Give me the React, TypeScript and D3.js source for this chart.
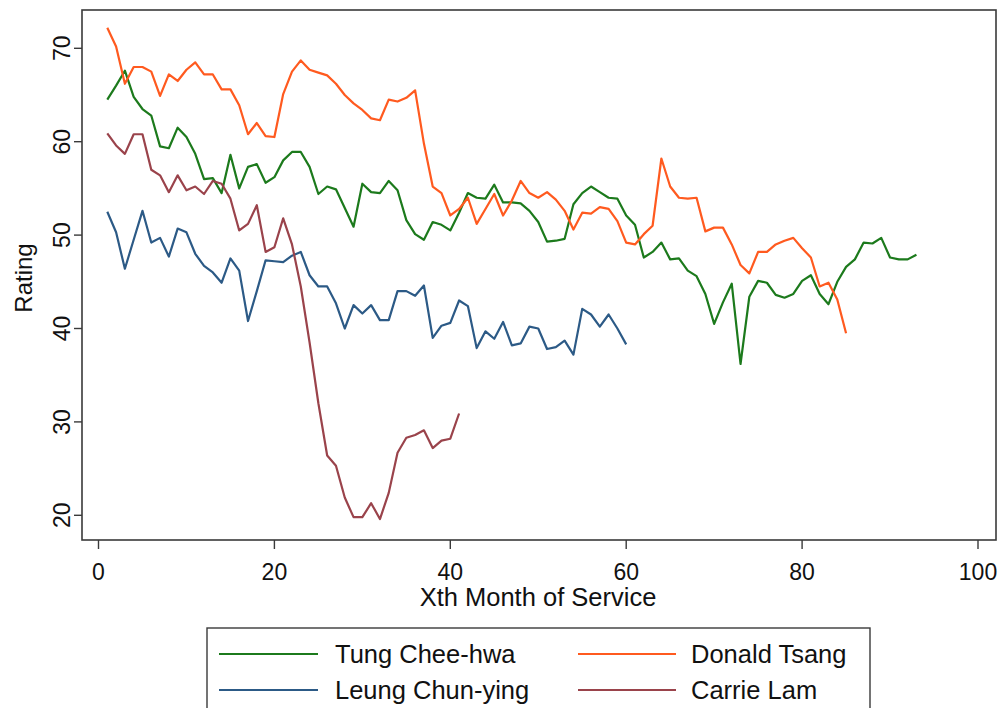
import React from 'react';
import * as d3 from 'd3';

const tungValues = [
  64.5, 66.0, 67.6, 64.8, 63.5, 62.8, 59.5, 59.3, 61.5, 60.5,
  58.7, 56.0, 56.1, 54.5, 58.6, 55.0, 57.3, 57.6, 55.6, 56.2,
  58.0, 58.9, 58.9, 57.3, 54.4, 55.2, 54.9, 52.9, 50.9, 55.5,
  54.6, 54.5, 55.8, 54.8, 51.6, 50.1, 49.5, 51.4, 51.1, 50.5,
  52.4, 54.5, 54.0, 53.9, 55.4, 53.5, 53.5, 53.4, 52.6, 51.4,
  49.3, 49.4, 49.6, 53.3, 54.5, 55.2, 54.6, 54.0, 53.9, 52.1,
  51.1, 47.6, 48.2, 49.2, 47.4, 47.5, 46.2, 45.6, 43.7, 40.5,
  42.8, 44.8, 36.2, 43.4, 45.1, 44.9, 43.6, 43.3, 43.7, 45.1,
  45.7, 43.7, 42.6, 45.0, 46.6, 47.4, 49.2, 49.1, 49.7, 47.6,
  47.4, 47.4, 47.9,
];

const tsangValues = [
  72.2, 70.2, 66.2, 68.0, 68.0, 67.5, 64.9, 67.2, 66.5, 67.7,
  68.5, 67.2, 67.2, 65.6, 65.6, 63.9, 60.8, 62.0, 60.6, 60.5,
  65.1, 67.5, 68.7, 67.7, 67.4, 67.1, 66.2, 65.0, 64.1, 63.4,
  62.5, 62.3, 64.5, 64.3, 64.7, 65.5, 59.8, 55.2, 54.5, 52.1,
  52.8, 54.0, 51.2, 52.8, 54.4, 52.1, 53.7, 55.8, 54.5, 54.0,
  54.6, 53.8, 52.6, 50.6, 52.4, 52.3, 53.0, 52.8, 51.5, 49.2,
  49.0, 50.1, 51.0, 58.2, 55.2, 54.0, 53.9, 54.0, 50.4, 50.8,
  50.8, 49.0, 46.8, 45.9, 48.2, 48.2, 49.0, 49.4, 49.7, 48.6,
  47.6, 44.5, 44.9, 43.1, 39.5,
];

const leungValues = [
  52.5, 50.3, 46.4, 49.5, 52.6, 49.2, 49.7, 47.7, 50.7, 50.3,
  48.0, 46.7, 46.0, 44.9, 47.5, 46.2, 40.8, 44.0, 47.3, 47.2,
  47.1, 47.8, 48.2, 45.7, 44.5, 44.5, 42.7, 40.0, 42.5, 41.6,
  42.5, 40.9, 40.9, 44.0, 44.0, 43.5, 44.6, 39.0, 40.3, 40.6,
  43.0, 42.4, 37.9, 39.7, 38.9, 40.7, 38.2, 38.4, 40.2, 40.0,
  37.8, 38.0, 38.7, 37.2, 42.1, 41.5, 40.2, 41.5, 40.0, 38.3,
];

const lamValues = [
  60.9, 59.6, 58.7, 60.8, 60.8, 57.0, 56.4, 54.6, 56.4, 54.8,
  55.2, 54.4, 55.8, 55.5, 53.9, 50.5, 51.2, 53.2, 48.2, 48.7,
  51.8, 49.0, 44.5, 38.5, 32.0, 26.4, 25.3, 21.9, 19.8, 19.8,
  21.3, 19.6, 22.4, 26.7, 28.3, 28.6, 29.1, 27.2, 28.0, 28.2,
  30.9,
];

const seriesNames = ['Tung Chee-hwa', 'Donald Tsang', 'Leung Chun-ying', 'Carrie Lam'];
const seriesColors = ['#1c7a1c', '#ff5a1f', '#2c5a86', '#9a434b'];
const xTicks = [0, 20, 40, 60, 80, 100];
const yTicks = [20, 30, 40, 50, 60, 70];

const frame = { left: 82, right: 996, top: 10, bottom: 540 };
const font = 'Arial, "Liberation Sans", Helvetica, sans-serif';

const xScale = d3.scaleLinear().domain([0, 100]).range([98.5, 978]);
const yScale = d3.scaleLinear().domain([20, 70]).range([515.3, 48.3]);

const line = d3
  .line<number>()
  .x((_, i) => xScale(i + 1))
  .y((d) => yScale(d));

const allSeries = [tungValues, tsangValues, leungValues, lamValues];

// legend order in the picture: Tung, Tsang on row one, Leung, Lam on row two
const legendSlots = [
  { col: 0, row: 0 },
  { col: 1, row: 0 },
  { col: 0, row: 1 },
  { col: 1, row: 1 },
];
const legendCols = [
  { x1: 219, x2: 318, tx: 335 },
  { x1: 578, x2: 676, tx: 691 },
];
const legendRows = [654, 690];

const App: React.FC = () => {
  return (
    <svg width={1003} height={708} style={{ display: 'block', position: 'absolute', left: 0, top: 0 }}>
      <rect x={0} y={0} width={1003} height={708} fill="#fff" />

      {allSeries.map((vals, i) => (
        <path
          key={seriesNames[i]}
          d={line(vals) || ''}
          fill="none"
          stroke={seriesColors[i]}
          strokeWidth={2.2}
          strokeLinejoin="round"
        />
      ))}

      <rect
        x={frame.left}
        y={frame.top}
        width={frame.right - frame.left}
        height={frame.bottom - frame.top}
        fill="none"
        stroke="#3a3a3a"
        strokeWidth={1.6}
      />

      {yTicks.map((t) => (
        <g key={'y' + t}>
          <line x1={frame.left - 8} x2={frame.left} y1={yScale(t)} y2={yScale(t)} stroke="#3a3a3a" strokeWidth={1.4} />
          <text
            transform={`translate(70, ${yScale(t)}) rotate(-90)`}
            textAnchor="middle"
            fontFamily={font}
            fontSize={23}
            fill="#111"
          >
            {t}
          </text>
        </g>
      ))}

      {xTicks.map((t) => (
        <g key={'x' + t}>
          <line x1={xScale(t)} x2={xScale(t)} y1={frame.bottom} y2={frame.bottom + 9} stroke="#3a3a3a" strokeWidth={1.4} />
          <text x={xScale(t)} y={580} textAnchor="middle" fontFamily={font} fontSize={23} fill="#111">
            {t}
          </text>
        </g>
      ))}

      <text x={538} y={606} textAnchor="middle" fontFamily={font} fontSize={25.5} fill="#111">
        Xth Month of Service
      </text>
      <text
        transform={`translate(32, ${(frame.top + frame.bottom) / 2 + 3}) rotate(-90)`}
        textAnchor="middle"
        fontFamily={font}
        fontSize={24}
        fill="#111"
      >
        Rating
      </text>

      <rect x={207} y={628} width={663} height={90} fill="#fff" stroke="#3a3a3a" strokeWidth={1.4} />
      {seriesNames.map((name, i) => {
        const slot = legendSlots[i];
        const c = legendCols[slot.col];
        const y = legendRows[slot.row];
        return (
          <g key={'lg' + name}>
            <line x1={c.x1} x2={c.x2} y1={y} y2={y} stroke={seriesColors[i]} strokeWidth={2.2} />
            <text x={c.tx} y={y + 9} fontFamily={font} fontSize={25.5} fill="#111">
              {name}
            </text>
          </g>
        );
      })}
    </svg>
  );
};

export default App;
